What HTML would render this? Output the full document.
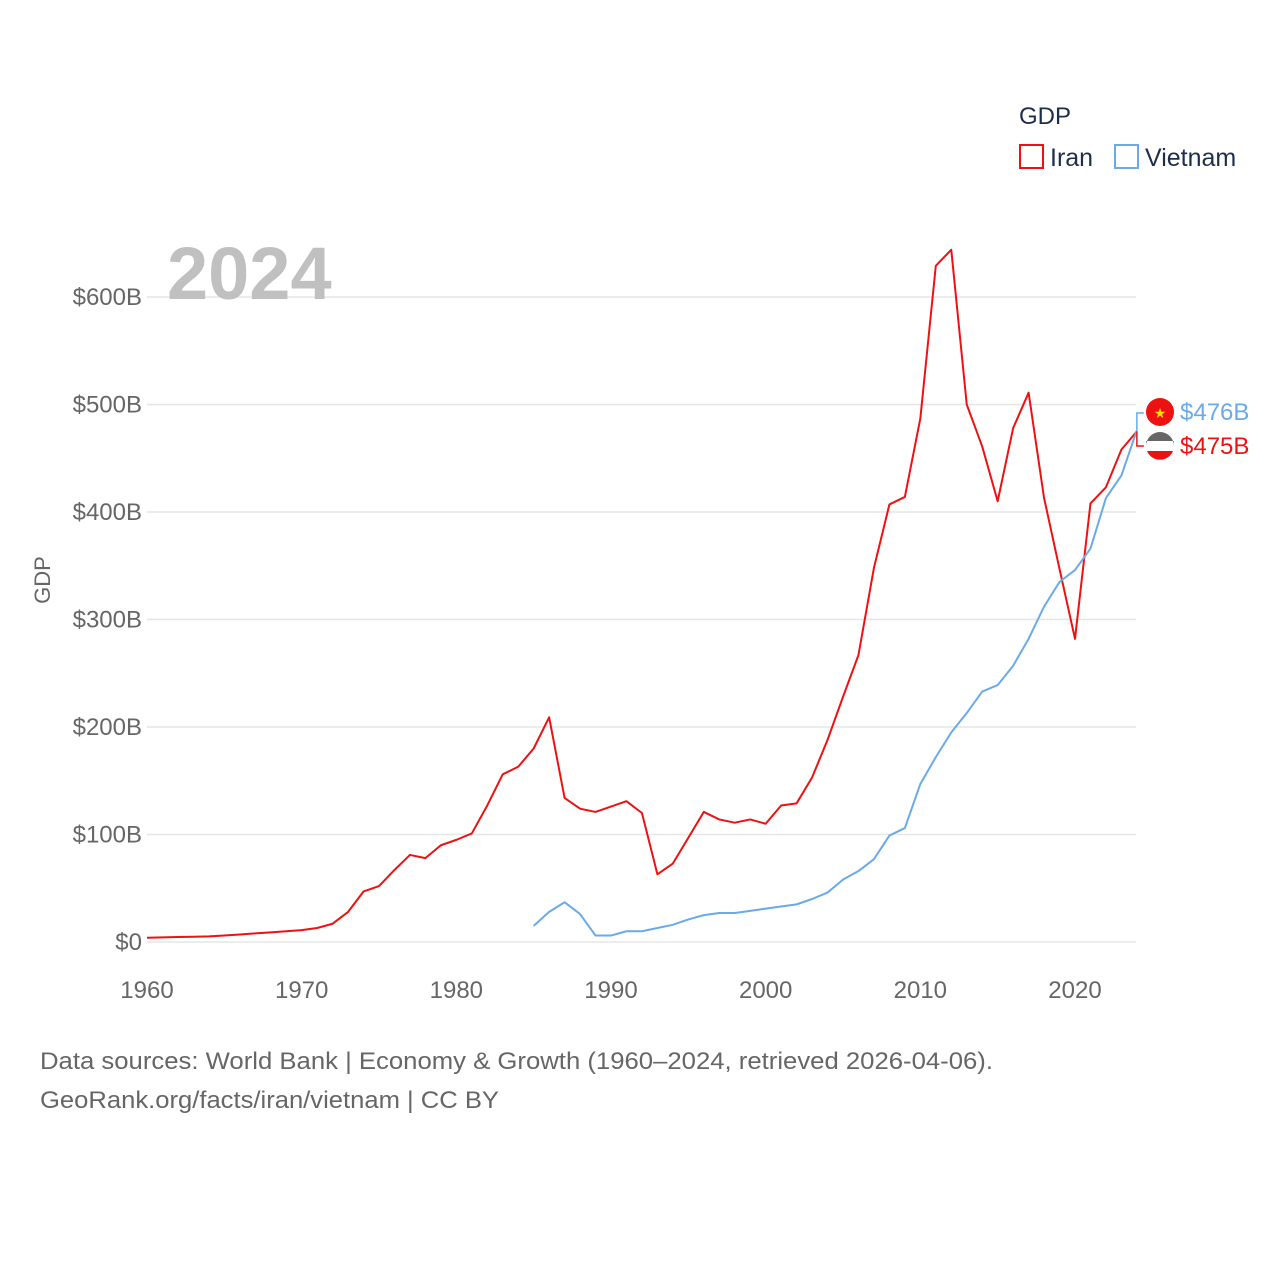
<!DOCTYPE html>
<html><head><meta charset="utf-8"><style>
body{margin:0;background:#fff;}
svg{display:block;font-family:"Liberation Sans",sans-serif;}
</style></head><body>
<svg id="chart" width="1280" height="1280" viewBox="0 0 1280 1280">
<g id="grid"></g>
<g id="yticks"></g>
<g id="xticks"></g>
<text x="167" y="299" font-size="74" font-weight="bold" fill="#c0c0c0">2024</text>
<text transform="translate(50,580) rotate(-90)" text-anchor="middle" font-size="22" fill="#666">GDP</text>
<g id="series"></g>
<g>
<text x="1019" y="124" font-size="24" fill="#1f2d4d">GDP</text>
<g><rect x="1020" y="145" width="23" height="23" fill="none" stroke="#ee1111" stroke-width="2"/><text x="1050" y="166" font-size="25" fill="#1f2d4d">Iran</text></g>
<g><rect x="1115" y="145" width="23" height="23" fill="none" stroke="#6aaae8" stroke-width="2"/><text x="1145" y="166" font-size="25" fill="#1f2d4d">Vietnam</text></g>
</g>
<g id="endlabels"></g>
<text x="40" y="1069" font-size="24" fill="#666" textLength="953" lengthAdjust="spacingAndGlyphs">Data sources: World Bank | Economy &amp; Growth (1960–2024, retrieved 2026-04-06).</text>
<text x="40" y="1108" font-size="24" fill="#666" textLength="459" lengthAdjust="spacingAndGlyphs">GeoRank.org/facts/iran/vietnam | CC BY</text>
</svg>
<script>
const yTicks=[0,100,200,300,400,500,600];
const yTickLabels=["$0","$100B","$200B","$300B","$400B","$500B","$600B"];
const xTicks=[1960,1970,1980,1990,2000,2010,2020];
const iranYears=[1960,1961,1962,1963,1964,1965,1966,1967,1968,1969,1970,1971,1972,1973,1974,1975,1976,1977,1978,1979,1980,1981,1982,1983,1984,1985,1986,1987,1988,1989,1990,1991,1992,1993,1994,1995,1996,1997,1998,1999,2000,2001,2002,2003,2004,2005,2006,2007,2008,2009,2010,2011,2012,2013,2014,2015,2016,2017,2018,2019,2020,2021,2022,2023,2024];
const iranGDP=[4,4.3,4.6,4.9,5.2,6,7,8,9,10,11,13,17,28,47,52,67,81,78,90,95,101,127,156,163,180,209,134,124,121,126,131,120,63,73,97,121,114,111,114,110,127,129,153,188,228,267,348,407,414,487,629,644,500,461,410,478,511,413,347,282,408,423,458,475];
const vietYears=[1985,1986,1987,1988,1989,1990,1991,1992,1993,1994,1995,1996,1997,1998,1999,2000,2001,2002,2003,2004,2005,2006,2007,2008,2009,2010,2011,2012,2013,2014,2015,2016,2017,2018,2019,2020,2021,2022,2023,2024];
const vietGDP=[15,28,37,26,6,6,10,10,13,16,21,25,27,27,29,31,33,35,40,46,58,66,77,99,106,147,172,195,213,233,239,257,282,312,335,346,366,413,434,476];
const NS="http://www.w3.org/2000/svg";
const X=y=>147+(y-1960)*(1075-147)/60;
const Y=v=>942-v*1.075;
function mk(tag,attrs,parent){const e=document.createElementNS(NS,tag);for(const k in attrs)e.setAttribute(k,attrs[k]);parent.appendChild(e);return e;}
const grid=document.getElementById('grid'),yt=document.getElementById('yticks'),xt=document.getElementById('xticks'),ser=document.getElementById('series'),el=document.getElementById('endlabels');
yTicks.forEach((v,i)=>{
  const l=mk('line',{x1:147,x2:1136,y1:Y(v),y2:Y(v),stroke:'#e6e6e6','stroke-width':1.5},grid);
  
  
  const t=mk('text',{x:142,y:Y(v)+8,'text-anchor':'end','font-size':24,fill:'#666'},yt);
  t.textContent=yTickLabels[i];
  
  
});
xTicks.forEach(v=>{
  const t=mk('text',{x:X(v),y:998,'text-anchor':'middle','font-size':24,fill:'#666'},xt);
  t.textContent=v;
  
  
});
function line(years,vals,color,name){
  const p=mk('polyline',{points:years.map((y,i)=>X(y)+','+Y(vals[i])).join(' '),fill:'none',stroke:color,'stroke-width':2,'stroke-linejoin':'round'},ser);
  
  
}
line(iranYears,iranGDP,'#ee1111','iran-line');
line(vietYears,vietGDP,'#6aaae8','vietnam-line');
const ix=X(2024);
const vy=Y(vietGDP[vietGDP.length-1]), iy=Y(iranGDP[iranGDP.length-1]);
mk('polyline',{points:`${ix},${vy} ${ix},413 ${ix+7},413`,fill:'none',stroke:'#6aaae8','stroke-width':1.5},el);
mk('polyline',{points:`${ix},${iy} ${ix},446 ${ix+7},446`,fill:'none',stroke:'#ee1111','stroke-width':1.5},el);
const vf=mk('circle',{cx:1160,cy:412,r:14,fill:'#ee1111'},el);


const st=mk('text',{x:1160,y:418,'text-anchor':'middle','font-size':14,fill:'#ffdd00'},el);st.textContent='★';
const irf=mk('g',{},el);


mk('circle',{cx:1160,cy:446,r:14,fill:'#fff'},irf);
mk('path',{d:'M1146,446 A14,14 0 0 1 1174,446 L1174,441 L1146,441Z',fill:'#666'},irf);
mk('path',{d:'M1147,451 L1173,451 A14,14 0 0 1 1147,451Z',fill:'#ee1111'},irf);
const vt=mk('text',{x:1180,y:420,'font-size':24,fill:'#6aaae8'},el);vt.textContent='$476B';


const it=mk('text',{x:1180,y:454,'font-size':24,fill:'#ee1111'},el);it.textContent='$475B';


</script>
</body></html>
